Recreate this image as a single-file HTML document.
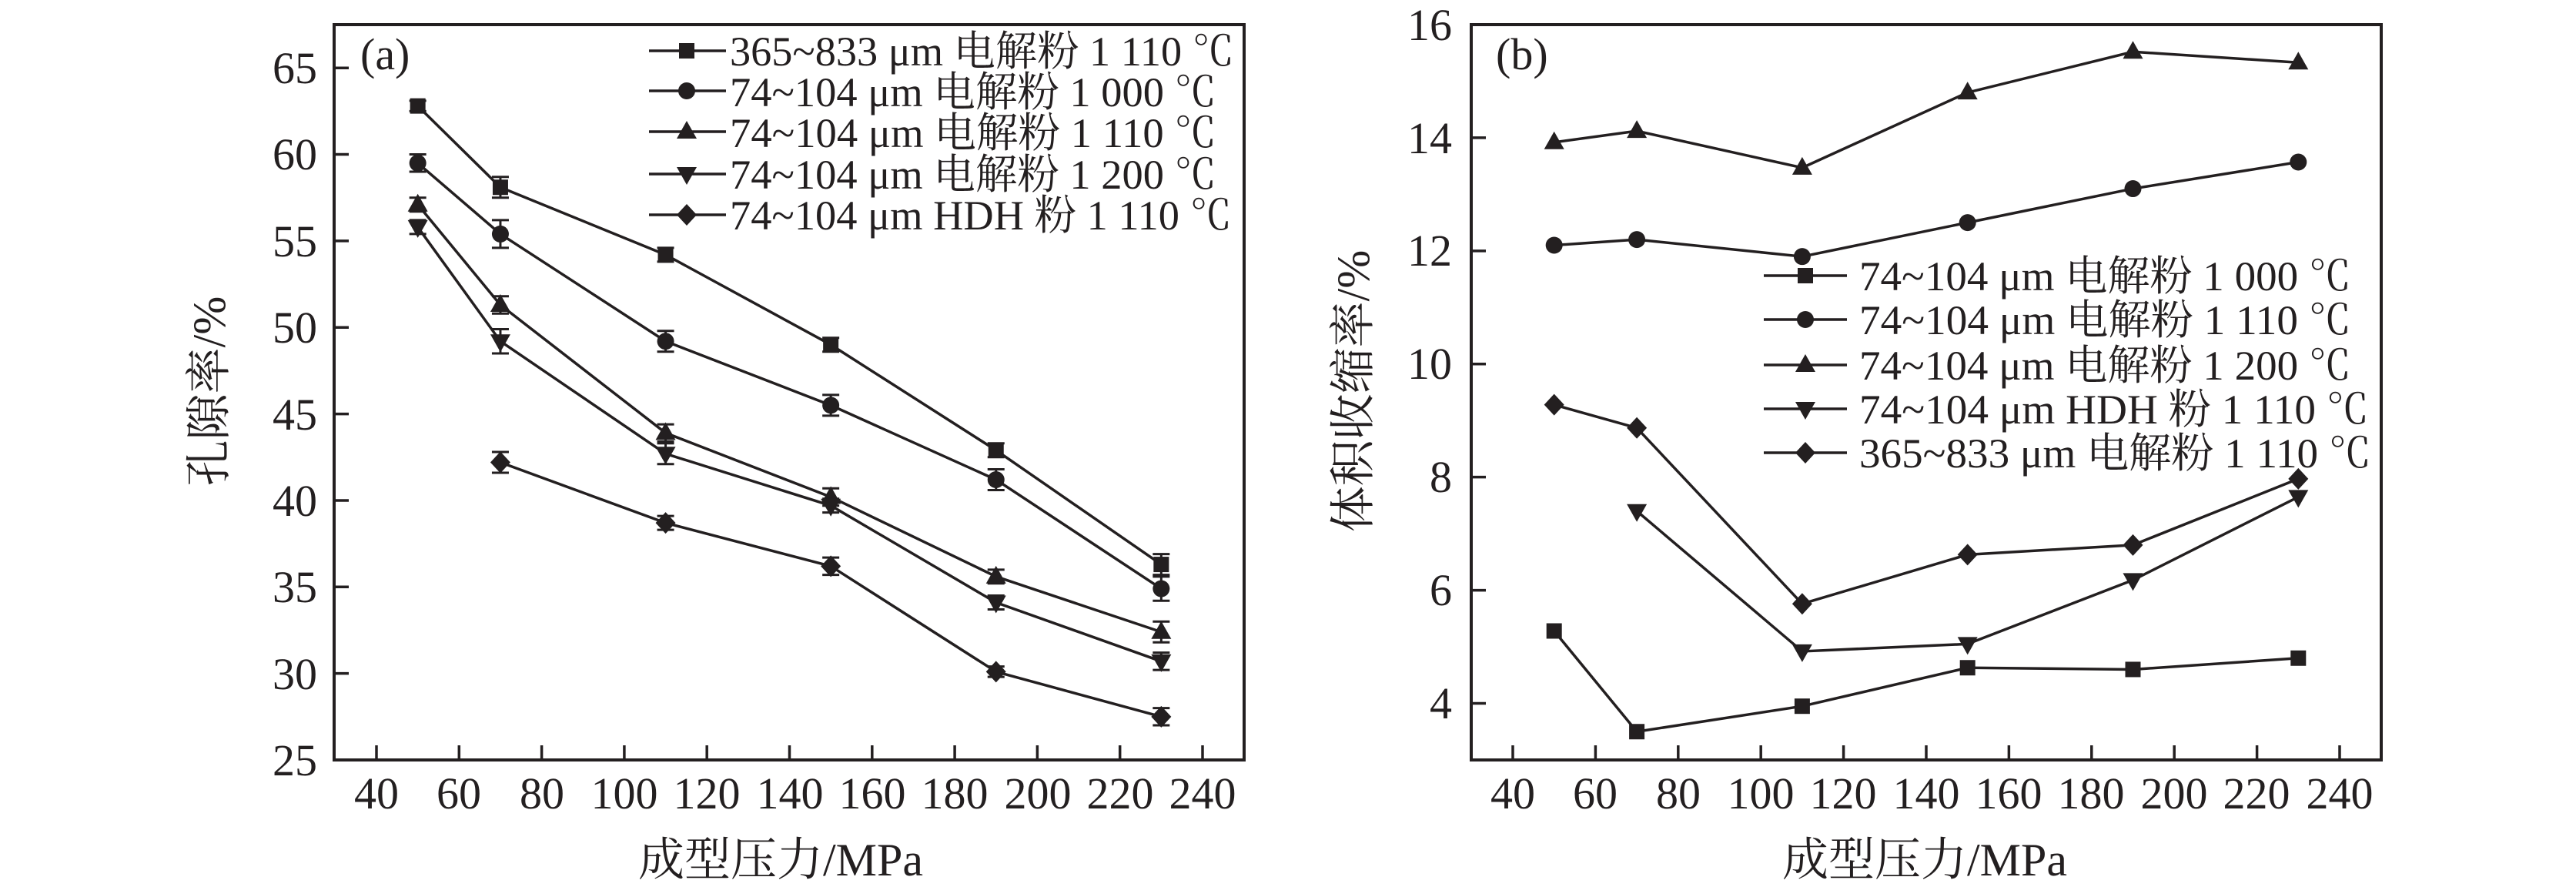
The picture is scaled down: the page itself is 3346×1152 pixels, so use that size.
<!DOCTYPE html>
<html><head><meta charset="utf-8"><style>
html,body{margin:0;padding:0;background:#fff;}
svg{display:block;}
svg text{font-family:"Liberation Serif","Times New Roman","Noto Serif CJK SC",serif;fill:#231f20;}
</style></head><body>
<svg id="s" width="3346" height="1152" viewBox="0 0 3346 1152" xmlns="http://www.w3.org/2000/svg" font-family="'Liberation Serif','Noto Serif CJK SC',serif">
<g stroke="#231f20" stroke-width="4" fill="none">
<rect x="434" y="32" width="1182" height="955"/>
<rect x="1911" y="32" width="1182" height="955"/>
</g>
<g font-size="58" text-anchor="end">
<text x="412" y="1007">25</text><text x="412" y="895">30</text><text x="412" y="782">35</text><text x="412" y="670">40</text><text x="412" y="558">45</text><text x="412" y="445">50</text><text x="412" y="333">55</text><text x="412" y="220">60</text><text x="412" y="108">65</text>
<text x="1886" y="933">4</text><text x="1886" y="786">6</text><text x="1886" y="639">8</text><text x="1886" y="492">10</text><text x="1886" y="345">12</text><text x="1886" y="199">14</text><text x="1886" y="52">16</text>
</g>
<g font-size="58" text-anchor="middle">
<text x="489" y="1050">40</text><text x="596" y="1050">60</text><text x="704" y="1050">80</text><text x="811" y="1050">100</text><text x="918" y="1050">120</text><text x="1026" y="1050">140</text><text x="1133" y="1050">160</text><text x="1240" y="1050">180</text><text x="1348" y="1050">200</text><text x="1455" y="1050">220</text><text x="1562" y="1050">240</text>
<text x="1965" y="1050">40</text><text x="2072" y="1050">60</text><text x="2180" y="1050">80</text><text x="2287" y="1050">100</text><text x="2394" y="1050">120</text><text x="2502" y="1050">140</text><text x="2609" y="1050">160</text><text x="2716" y="1050">180</text><text x="2824" y="1050">200</text><text x="2931" y="1050">220</text><text x="3039" y="1050">240</text>
</g>
<g font-size="60" text-anchor="middle">
<text x="1014" y="1137">成型压力/MPa</text>
<text x="2500" y="1137">成型压力/MPa</text>
<text transform="translate(292,508) rotate(-90)">孔隙率/%</text>
<text transform="translate(1778,508) rotate(-90)">体积收缩率/%</text>
</g>
<g font-size="58">
<text x="468" y="90">(a)</text>
<text x="1943" y="90">(b)</text>
</g>
<g font-size="54">
<text x="948" y="85" textLength="655" lengthAdjust="spacingAndGlyphs">365~833 μm 电解粉 1 110 ℃</text>
<text x="948" y="138" textLength="632" lengthAdjust="spacingAndGlyphs">74~104 μm 电解粉 1 000 ℃</text>
<text x="948" y="191" textLength="632" lengthAdjust="spacingAndGlyphs">74~104 μm 电解粉 1 110 ℃</text>
<text x="948" y="245" textLength="632" lengthAdjust="spacingAndGlyphs">74~104 μm 电解粉 1 200 ℃</text>
<text x="948" y="298" textLength="652" lengthAdjust="spacingAndGlyphs">74~104 μm HDH 粉 1 110 ℃</text>
<text x="2415" y="377" textLength="639" lengthAdjust="spacingAndGlyphs">74~104 μm 电解粉 1 000 ℃</text>
<text x="2415" y="434" textLength="639" lengthAdjust="spacingAndGlyphs">74~104 μm 电解粉 1 110 ℃</text>
<text x="2415" y="493" textLength="639" lengthAdjust="spacingAndGlyphs">74~104 μm 电解粉 1 200 ℃</text>
<text x="2415" y="550" textLength="662" lengthAdjust="spacingAndGlyphs">74~104 μm HDH 粉 1 110 ℃</text>
<text x="2415" y="607" textLength="665" lengthAdjust="spacingAndGlyphs">365~833 μm 电解粉 1 110 ℃</text>
</g>
<g id="g"></g>
</svg>
<script>
var g=document.getElementById('g'),h='';
function ln(a,b,c,d,w){h+='<line x1="'+a+'" y1="'+b+'" x2="'+c+'" y2="'+d+'" stroke="#231f20" stroke-width="'+(w||3.5)+'"/>';}
function mk(t,x,y){var s=10;
 if(t==0)h+='<rect x="'+(x-s)+'" y="'+(y-s)+'" width="'+(2*s)+'" height="'+(2*s)+'" fill="#231f20"/>';
 else if(t==1)h+='<circle cx="'+x+'" cy="'+y+'" r="11" fill="#231f20"/>';
 else if(t==2)h+='<polygon points="'+x+','+(y-14)+' '+(x+13)+','+(y+9)+' '+(x-13)+','+(y+9)+'" fill="#231f20"/>';
 else if(t==3)h+='<polygon points="'+x+','+(y+14)+' '+(x+13)+','+(y-9)+' '+(x-13)+','+(y-9)+'" fill="#231f20"/>';
 else h+='<polygon points="'+x+','+(y-14)+' '+(x+13)+','+y+' '+x+','+(y+14)+' '+(x-13)+','+y+'" fill="#231f20"/>';}
for(var v=40;v<=240;v+=20){var xa=489+(v-40)*5.365,xb=1965+(v-40)*5.37;ln(xa,987,xa,968);ln(xb,987,xb,968);}
for(var v=25;v<=65;v+=5){var y=987-(v-25)*22.47;ln(434,y,453,y);}
for(var v=4;v<=16;v+=2){var y=32+(16-v)*73.46;ln(1911,y,1930,y);}
var X=[50,70,110,150,190,230];
var A=[[0,[62.8,58.1,54.2,49.0,42.9,36.3],[.3,.6,.4,.4,.4,.6]],[1,[59.5,55.4,49.2,45.5,41.2,34.9],[.5,.8,.6,.6,.6,.7]],[2,[57.1,51.3,43.9,40.2,35.6,32.4],[.4,.5,.5,.5,.4,.6]],[3,[55.8,49.2,42.7,39.7,34.1,30.7],[.4,.7,.6,.4,.4,.5]],[4,[null,42.2,38.7,36.2,30.1,27.5],[0,.6,.4,.5,.3,.5]]];
A.forEach(function(s){var pts=[];X.forEach(function(xv,i){var v=s[1][i];if(v==null)return;var x=489+(xv-40)*5.365,y=987-(v-25)*22.47,e=s[2][i]*22.47;pts.push([x,y,e]);});
 for(var i=1;i<pts.length;i++)ln(pts[i-1][0],pts[i-1][1],pts[i][0],pts[i][1]);
 pts.forEach(function(p){ln(p[0],p[1]-p[2],p[0],p[1]+p[2],3);ln(p[0]-11,p[1]-p[2],p[0]+11,p[1]-p[2],3);ln(p[0]-11,p[1]+p[2],p[0]+11,p[1]+p[2],3);mk(s[0],p[0],p[1]);});});
var B=[[0,[5.28,3.5,3.95,4.63,4.6,4.8]],[1,[12.1,12.2,11.9,12.5,13.1,13.57]],[2,[13.92,14.12,13.47,14.8,15.52,15.33]],[3,[null,7.4,4.92,5.05,6.18,7.65]],[4,[9.28,8.87,5.76,6.63,6.8,7.97]]];
B.forEach(function(s){var pts=[];X.forEach(function(xv,i){var v=s[1][i];if(v==null)return;pts.push([1965+(xv-40)*5.37,32+(16-v)*73.46]);});
 for(var i=1;i<pts.length;i++)ln(pts[i-1][0],pts[i-1][1],pts[i][0],pts[i][1]);
 pts.forEach(function(p){mk(s[0],p[0],p[1]);});});
var la=[66,118,171,226,279];la.forEach(function(y,i){ln(843,y,943,y);mk(i,892,y);});
var lb=[358,415,474,531,588];lb.forEach(function(y,i){ln(2291,y,2399,y);mk(i,2345,y);});
g.innerHTML=h;
</script>
</body></html>
